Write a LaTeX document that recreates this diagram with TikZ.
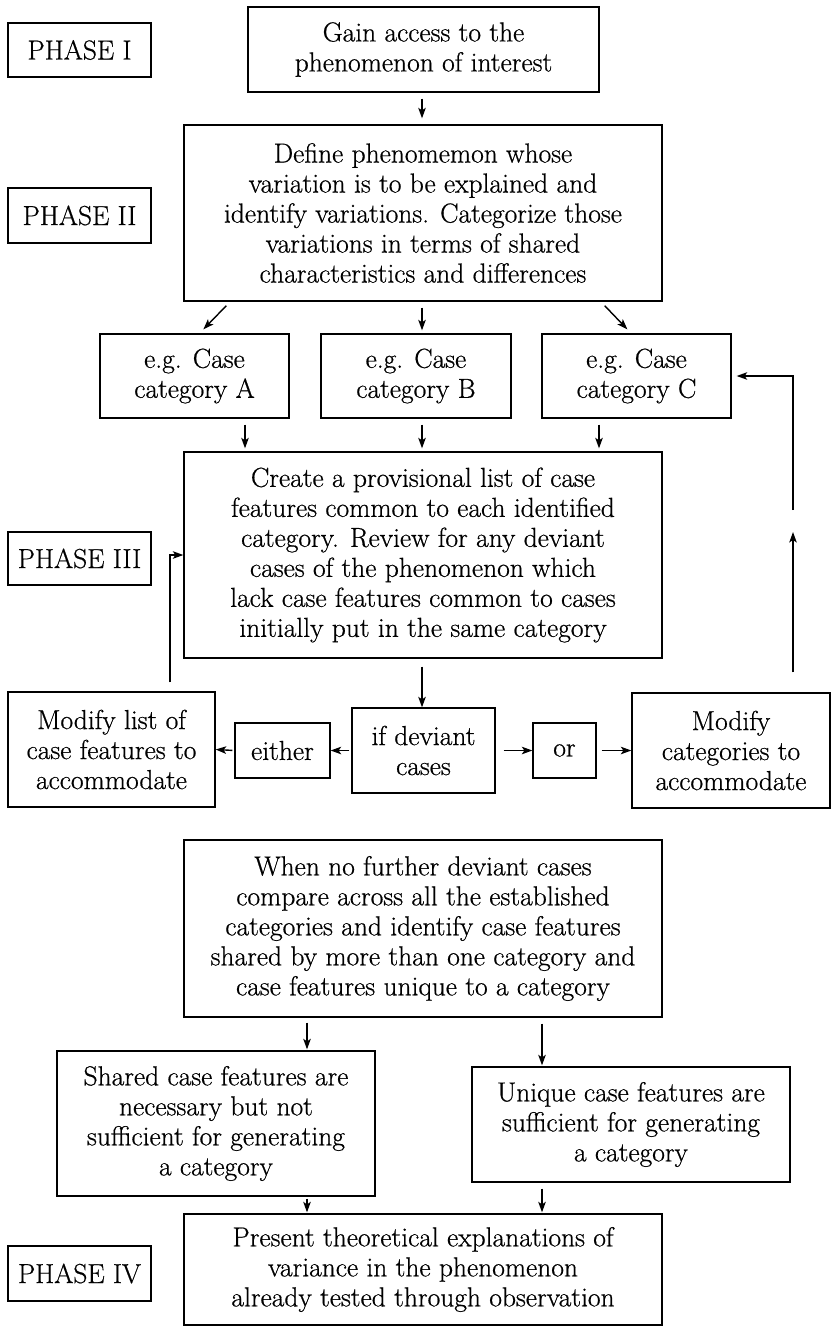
\documentclass[tikz,border=0pt]{standalone}
\usepackage{fontspec}
\setmainfont{Latin Modern Roman}[FakeBold=0.6]
\usetikzlibrary{arrows.meta,calc}
\begin{document}
\begin{tikzpicture}[x=1pt,y=-1pt,
  box/.style={draw,line width=1.3pt,align=center,inner sep=0pt,font=\fontsize{27.5}{30}\selectfont},
  arr/.style={line width=1.4pt,-{Stealth[length=10.5pt,width=7.5pt,inset=2.5pt]}}]
\path[use as bounding box] (0,0) rectangle (831,1327);
% phases
\node[box,minimum width=143pt,minimum height=54pt] (ph1) at (79.5,50) {PHASE I};
\node[box,minimum width=143pt,minimum height=55pt] (ph2) at (79.5,215.5) {PHASE II};
\node[box,minimum width=143pt,minimum height=53pt] (ph3) at (79.5,558.5) {PHASE III};
\node[box,minimum width=143pt,minimum height=55pt] (ph4) at (79.5,1273.5) {PHASE IV};
% main boxes
\node[box,minimum width=351pt,minimum height=85pt] (gain) at (423.5,49.5) {Gain access to the\\phenomenon of interest};
\node[box,minimum width=478pt,minimum height=176pt] (define) at (423,213) {Define phenomemon whose\\variation is to be explained and\\identify variations. Categorize those\\variations in terms of shared\\characteristics and differences};
\node[box,minimum width=189pt,minimum height=84pt] (caseA) at (194.5,376) {e.g. Case\\category A};
\node[box,minimum width=190pt,minimum height=84pt] (caseB) at (416,376) {e.g. Case\\category B};
\node[box,minimum width=189pt,minimum height=84pt] (caseC) at (636.5,376) {e.g. Case\\category C};
\node[box,minimum width=478pt,minimum height=206pt] (create) at (423,555) {Create a provisional list of case\\features common to each identified\\category. Review for any deviant\\cases of the phenomenon which\\lack case features common to cases\\initially put in the same category};
\node[box,minimum width=207pt,minimum height=115pt] (modL) at (111.5,749.5) {Modify list of\\case features to\\accommodate};
\node[box,minimum width=95pt,minimum height=55pt] (either) at (282.5,750.5) {either};
\node[box,minimum width=143pt,minimum height=85pt] (ifdev) at (423.5,750.5) {if deviant\\cases};
\node[box,minimum width=63pt,minimum height=55pt] (or) at (564.5,750.5) {or};
\node[box,minimum width=198pt,minimum height=115pt] (modR) at (731,750.5) {Modify\\categories to\\accommodate};
\node[box,minimum width=478pt,minimum height=177pt] (when) at (423,928.5) {When no further deviant cases\\compare across all the established\\categories and identify case features\\shared by more than one category and\\case features unique to a category};
\node[box,minimum width=318pt,minimum height=145pt] (shared) at (216,1123.5) {Shared case features are\\necessary but not\\sufficient for generating\\a category};
\node[box,minimum width=318pt,minimum height=115pt] (unique) at (631,1124.5) {Unique case features are\\sufficient for generating\\a category};
\node[box,minimum width=478pt,minimum height=111pt] (present) at (423,1269.5) {Present theoretical explanations of\\variance in the phenomenon\\already tested through observation};
% column coordinates
\coordinate (cm) at (422,0);
\coordinate (cl) at (245,0);
\coordinate (cr) at (599,0);
\coordinate (sl) at (307,0);
\coordinate (sr) at (542,0);
\coordinate (fl) at (170,0);
\coordinate (fr) at (793,0);
% arrows
\draw[arr,shorten <=6pt,shorten >=6pt] (gain.south -| cm) -- (define.north -| cm);
\draw[arr] ($(define.south west)+(43,4)$) coordinate (d1) -- ($(caseA.north west)+(104,-4)$) coordinate (d2);
\draw[arr,shorten <=6pt,shorten >=3pt] (define.south -| cm) -- (caseB.north -| cm);
\draw[arr] ($(define.south east)+(-58,4)$) coordinate (d3) -- ($(caseC.north west)+(86,-4)$) coordinate (d4);
\draw[arr,shorten <=6pt,shorten >=3pt] (caseA.south -| cl) -- (create.north -| cl);
\draw[arr,shorten <=6pt,shorten >=3pt] (caseB.south -| cm) -- (create.north -| cm);
\draw[arr,shorten <=6pt,shorten >=3pt] (caseC.south -| cr) -- (create.north -| cr);
\draw[arr,shorten <=8pt] (create.south -| cm) -- (ifdev.north -| cm);
\draw[arr,shorten <=2pt] (ifdev.west) -- (either.east);
\draw[arr,shorten <=2pt] (either.west) -- (modL.east);
\draw[arr,shorten <=8pt] (ifdev.east) -- (or.west);
\draw[arr,shorten <=5pt] (or.east) -- (modR.west);
\draw[arr,shorten <=9pt] (modL.north -| fl) |- (create.west);
\draw[arr,shorten <=20pt] (modR.north -| fr) -- (793,532) coordinate (fm);
\draw[arr,shorten >=5pt] (793,510) coordinate (fu) |- (caseC.east);
\draw[arr,shorten <=5pt,shorten >=1pt] (when.south -| sl) -- (shared.north -| sl);
\draw[arr,shorten <=6pt,shorten >=1pt] (when.south -| sr) -- (unique.north -| sr);
\draw[arr,shorten <=2pt,shorten >=1pt] (shared.south -| sl) -- (present.north -| sl);
\draw[arr,shorten <=6pt,shorten >=1pt] (unique.south -| sr) -- (present.north -| sr);
\end{tikzpicture}
\end{document}
